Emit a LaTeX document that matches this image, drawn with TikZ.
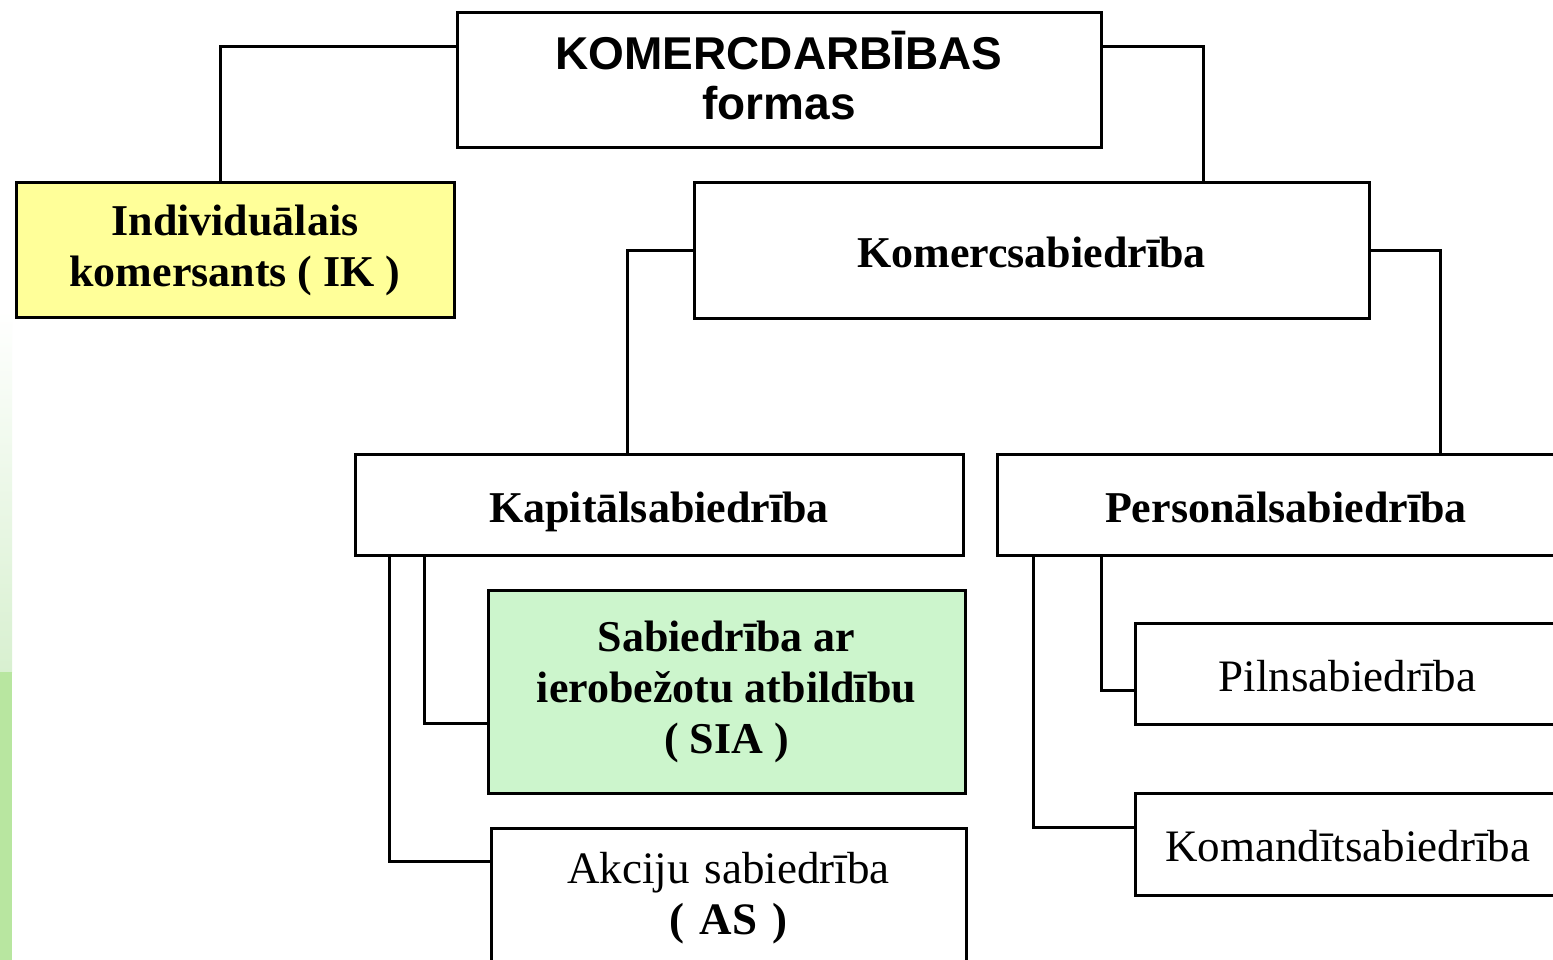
\documentclass[tikz,border=0pt]{standalone}
\usepackage{fontspec}
\setmainfont{Liberation Serif}
\newfontfamily\headfont{Liberation Sans}
\definecolor{ikyellow}{HTML}{FFFF99}
\definecolor{siagreen}{HTML}{CCF5CC}
\definecolor{stripb}{HTML}{D8F0D0}
\definecolor{stripc}{HTML}{B8E6A0}
\begin{document}
\begin{tikzpicture}[x=1pt,y=-1pt,
  box/.style={draw=black,line width=3pt,fill=white,inner sep=0pt,align=center},
  oneline/.style={text height=38pt,text depth=3pt},
  bigtext/.style={font=\fontsize{44}{51}\selectfont\bfseries},
  regtext/.style={font=\fontsize{45}{51}\selectfont},
  conn/.style={draw=black,line width=3pt}]
\useasboundingbox (0,0) rectangle (1553,960);
\clip (0,0) rectangle (1553,960);
\fill[white] (0,0) rectangle (1553,960);
% left green strip
\shade[top color=white,bottom color=stripb] (0,310) rectangle (12,672);
\fill[stripc] (0,672) rectangle (12,960);

% nodes
\node[box,minimum width=644,minimum height=135,text depth=10pt,
  font=\headfont\fontsize{46}{50}\selectfont\bfseries] (top) at (779,80.5) {KOMERCDARBĪBAS\\formas};
\node[box,fill=ikyellow,minimum width=438,minimum height=134,bigtext] (ik) at (235,250) {Individuālais\\komersants ( IK )};
\node[box,oneline,minimum width=675,minimum height=135,bigtext] (ks) at (1031.5,250.5) {Komercsabiedrība};
\node[box,oneline,minimum width=608,minimum height=101,bigtext] (kap) at (659,504.5) {Kapitālsabiedrība};
\node[box,oneline,minimum width=578,minimum height=101,bigtext] (per) at (1286,504.5) {Personālsabiedrība};
\node[box,fill=siagreen,minimum width=477,minimum height=203,bigtext] (sia) at (726.5,691.5) {Sabiedrība ar\\ierobežotu atbildību\\( SIA )};
\node[box,anchor=north,inner ysep=24pt,text width=475,regtext] (as) at (728.5,827) {Akciju sabiedrība\\ \textbf{( AS )}\\[8pt]};
\node[box,oneline,minimum width=425,minimum height=101,regtext] (pil) at (1347.5,673.5) {Pilnsabiedrība};
\node[box,oneline,minimum width=425,minimum height=102,regtext] (kom) at (1347.5,844) {Komandītsabiedrība};

% connectors
\draw[conn] (top.west |- 0,47) -| (ik.north -| 220,0);
\draw[conn] (top.east |- 0,47) -| (ks.north -| 1203,0);
\draw[conn] (ks.west) -| (kap.north -| 627,0);
\draw[conn] (ks.east) -| (per.north -| 1440,0);
\draw[conn] (kap.south -| 424,0) |- (sia.west |- 0,723);
\draw[conn] (kap.south -| 389,0) |- (as.west |- 0,861);
\draw[conn] (per.south -| 1101,0) |- (pil.west |- 0,690);
\draw[conn] (per.south -| 1033,0) |- (kom.west |- 0,827);
\end{tikzpicture}
\end{document}
